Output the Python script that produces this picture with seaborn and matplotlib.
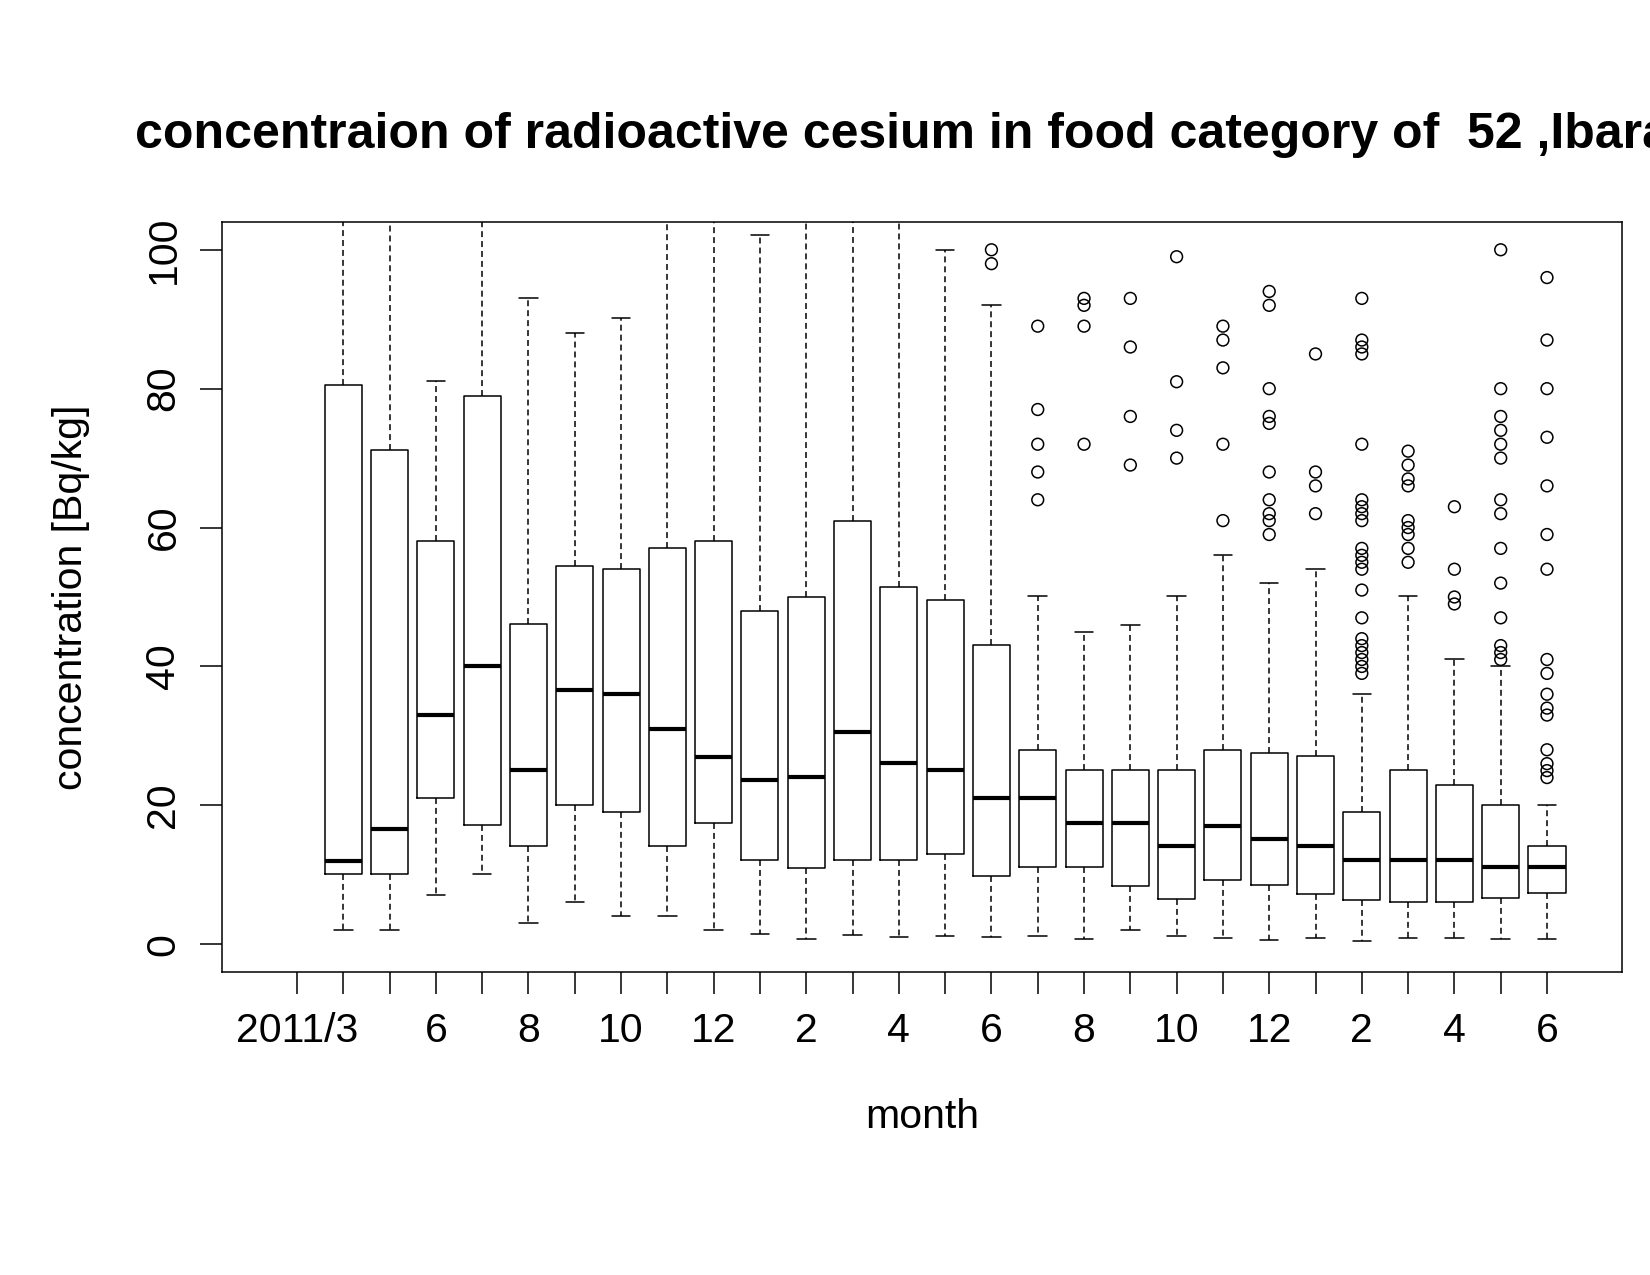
import numpy as np
import pandas as pd
import matplotlib
matplotlib.use("Agg")
import matplotlib.pyplot as plt
import seaborn as sns

# months on the x axis, 2011/3 .. 2013/6 (2011/3 has no samples)
month_labels = ["2011/3", "4", "5", "6", "7", "8", "9", "10", "11", "12",
                "1", "2", "3", "4", "5", "6", "7", "8", "9", "10", "11", "12",
                "1", "2", "3", "4", "5", "6"]

# box statistics for 2011/4 .. 2013/6 [Bq/kg]
q1 = [10.1, 10.1, 21.0, 17.1, 14.1, 20.1, 19.1, 14.1, 17.5, 12.1, 11.0, 12.1, 12.1, 13.0,
      9.8, 11.1, 11.1, 8.4, 6.5, 9.3, 8.5, 7.3, 6.4, 6.1, 6.1, 6.6, 7.4]
med = [12.0, 16.6, 33.0, 40.1, 25.1, 36.6, 36.1, 31.0, 27.0, 23.6, 24.1, 30.6, 26.1, 25.1,
       21.1, 21.0, 17.5, 17.5, 14.1, 17.0, 15.1, 14.1, 12.1, 12.1, 12.1, 11.1, 11.1]
q3 = [80.5, 71.1, 58.1, 79.0, 46.1, 54.5, 54.0, 57.0, 58.1, 48.0, 50.0, 61.0, 51.5, 49.6,
      43.1, 28.0, 25.1, 25.1, 25.1, 28.0, 27.5, 27.1, 19.1, 25.1, 23.0, 20.0, 14.1]
whislo = [2.0, 2.0, 7.1, 10.1, 3.1, 6.1, 4.05, 4.05, 2.0, 1.5, 0.75, 1.3, 1.0, 1.2,
          1.0, 1.2, 0.7, 2.0, 1.2, 0.9, 0.6, 0.86, 0.4, 0.86, 0.86, 0.7, 0.7]
# whiskers above 104 run off the top of the plot
whishi = [230, 210, 81.1, 190, 93.0, 88.0, 90.2, 200, 180, 102.1, 160, 220, 170, 100.0,
          92.0, 50.1, 45.0, 46.0, 50.1, 56.1, 52.0, 54.1, 36.0, 50.1, 41.1, 40.1, 20.0]
outliers = [[], [], [], [], [], [], [], [], [], [], [], [], [], [],
            [100, 98],
            [89, 77, 72, 68, 64],
            [93, 92, 89, 72],
            [93, 86, 76, 69],
            [99, 81, 74, 70],
            [89, 87, 83, 72, 61],
            [94, 92, 80, 76, 75, 68, 64, 62, 61, 59],
            [85, 68, 66, 62],
            [93, 87, 86, 85, 72, 64, 63, 62, 61, 57, 56, 55, 54, 51, 47, 44, 43, 42, 41, 40, 39],
            [71, 69, 67, 66, 61, 60, 59, 57, 55],
            [63, 54, 50, 49],
            [100, 80, 76, 74, 72, 70, 64, 62, 57, 52, 47, 43, 42, 41],
            [96, 87, 80, 73, 66, 59, 54, 41, 39, 36, 34, 33, 28, 26, 25, 24]]

title = "concentraion of radioactive cesium in food category of  52 ,Ibaraki"

sns.set_style("ticks")
plt.rcParams['font.family'] = ['Liberation Sans', 'DejaVu Sans']

W, H = 1650, 1275
fig = plt.figure(figsize=(W / 100, H / 100), dpi=100)
ax = fig.add_axes([222 / W, 1 - 972 / H, 1400 / W, 750 / H])

positions = np.arange(2, len(month_labels) + 1)
stats = [dict(q1=a, med=b, q3=c, whislo=d, whishi=e, fliers=[])
         for a, b, c, d, e in zip(q1, med, q3, whislo, whishi)]

lw = 1.1
ax.bxp(stats, positions=positions, widths=0.8, showfliers=False, manage_ticks=False,
       boxprops=dict(color='black', linewidth=lw),
       medianprops=dict(color='black', linewidth=3.0, solid_capstyle='butt'),
       whiskerprops=dict(color='black', linewidth=lw, linestyle=(0, (3.9, 2.6))),
       capprops=dict(color='black', linewidth=lw))

out_df = pd.DataFrame([(p, v) for p, vals in zip(positions, outliers) for v in vals],
                      columns=['pos', 'value'])
sns.scatterplot(data=out_df, x='pos', y='value', ax=ax, marker='o', s=72,
                color='black', facecolor='none', edgecolor='black', linewidth=1.1,
                legend=False, zorder=3)

ax.set_xlim(-0.62, 29.62)
ax.set_ylim(-4, 104)

tick_labels = [lab if (i == 0 or (i >= 3 and i % 2 == 1)) else ""
               for i, lab in enumerate(month_labels)]
ax.set_xticks(np.arange(1, len(month_labels) + 1))
ax.set_xticklabels(tick_labels)
yt = [0, 20, 40, 60, 80, 100]
ax.set_yticks(yt)
ax.set_yticklabels([str(v) for v in yt], rotation=90, va='center')

ax.tick_params(length=16, width=1.1, colors='black', labelsize=29.5, direction='out')
ax.tick_params(axis='x', pad=13)
ax.tick_params(axis='y', pad=12.5)
for sp in ax.spines.values():
    sp.set_visible(True)
    sp.set_color('black')
    sp.set_linewidth(1.1)
ax.grid(False)

ax.set_xlabel('month', fontsize=29.5, color='black')
ax.xaxis.set_label_coords(0.5, (H - 1117 - (H - 972)) / 750)
ax.xaxis.label.set_verticalalignment('center')
ax.set_ylabel('concentration [Bq/kg]', fontsize=29.5, color='black')
ax.yaxis.set_label_coords((71 - 222) / 1400, 0.5)
ax.yaxis.label.set_verticalalignment('center')

fig.text(135 / W, 1 - 148 / H, title, fontsize=36, fontweight='bold',
         ha='left', va='baseline', color='black')

fig.savefig('out.png', dpi=100)
